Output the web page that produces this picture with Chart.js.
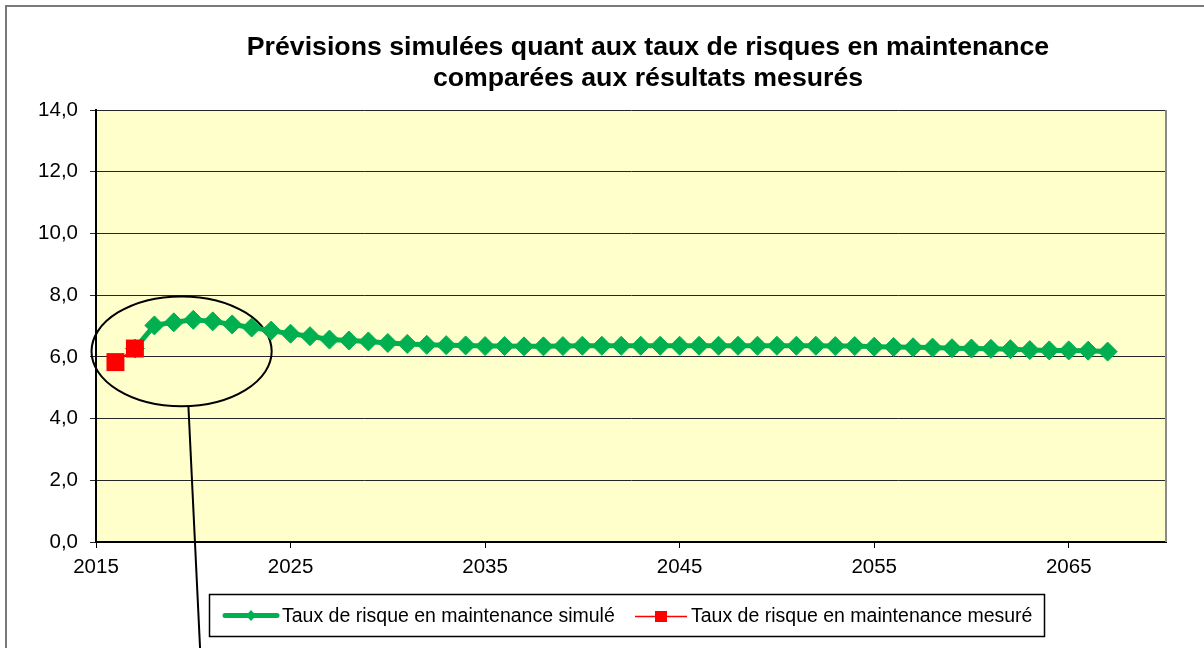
<!DOCTYPE html>
<html><head><meta charset="utf-8">
<script src="https://cdn.jsdelivr.net/npm/chart.js@4.4.1/dist/chart.umd.min.js"></script>
<style>html,body{margin:0;padding:0;background:#fff}#wrap{width:1204px;height:648px;position:relative}</style>
</head><body><div id="wrap"><canvas id="c"></canvas></div>
<script>
const titleLines = ['Prévisions simulées quant aux taux de risques en maintenance', 'comparées aux résultats mesurés'];
const simLabel = 'Taux de risque en maintenance simulé';
const mesLabel = 'Taux de risque en maintenance mesuré';
const simYears = [2017,2018,2019,2020,2021,2022,2023,2024,2025,2026,2027,2028,2029,2030,2031,2032,2033,2034,2035,2036,2037,2038,2039,2040,2041,2042,2043,2044,2045,2046,2047,2048,2049,2050,2051,2052,2053,2054,2055,2056,2057,2058,2059,2060,2061,2062,2063,2064,2065,2066,2067];
const simValues = [6.27,7.02,7.12,7.20,7.15,7.05,6.95,6.85,6.75,6.67,6.56,6.53,6.50,6.45,6.42,6.39,6.38,6.37,6.35,6.35,6.34,6.34,6.35,6.36,6.36,6.36,6.36,6.36,6.36,6.36,6.36,6.36,6.36,6.36,6.36,6.36,6.35,6.35,6.33,6.32,6.31,6.30,6.28,6.27,6.26,6.25,6.22,6.21,6.21,6.20,6.17];
const mesYears = [2016, 2017];
const mesValues = [5.83, 6.27];
const xTicks = [2015, 2025, 2035, 2045, 2055, 2065];
const yTicks = [0, 2, 4, 6, 8, 10, 12, 14];
// highlight ellipse annotation (data units)
const highlightCenter = [2019.4, 6.18];
const highlightRadii = [4.63, 1.78];
const pointerStart = [2019.75, 4.4];
const pointerEnd = [2020.35, -3.45];

const FONT = '"Liberation Sans", Arial, sans-serif';
const GREEN = '#00B050';
const RED = '#FF0000';

const deco = {
  id: 'deco',
  beforeDraw(chart) {
    const {ctx, chartArea: a} = chart;
    ctx.save();
    ctx.fillStyle = '#fff';
    ctx.fillRect(0, 0, chart.width, chart.height);
    ctx.fillStyle = '#FFFFCC';
    ctx.fillRect(a.left, a.top, a.right - a.left, a.bottom - a.top);
    // frame
    ctx.strokeStyle = '#7a7a7a';
    ctx.lineWidth = 2;
    ctx.beginPath();
    ctx.moveTo(6, chart.height);
    ctx.lineTo(6, 6);
    ctx.lineTo(chart.width, 6);
    ctx.stroke();
    // title
    ctx.fillStyle = '#000';
    ctx.font = 'bold 26.7px ' + FONT;
    ctx.textAlign = 'center';
    ctx.textBaseline = 'middle';
    ctx.fillText(titleLines[0], 648, 48);
    ctx.fillText(titleLines[1], 648, 79);
    ctx.restore();
  },
  beforeDatasetsDraw(chart) {
    const {ctx, chartArea: a} = chart;
    const xs = chart.scales.x, ys = chart.scales.y;
    ctx.save();
    // plot right border
    ctx.strokeStyle = '#8a8a8a';
    ctx.lineWidth = 2;
    ctx.beginPath();
    ctx.moveTo(a.right, a.top);
    ctx.lineTo(a.right, a.bottom);
    ctx.stroke();
    // ellipse
    const cx = xs.getPixelForValue(highlightCenter[0]);
    const cy = ys.getPixelForValue(highlightCenter[1]);
    const rx = xs.getPixelForValue(highlightCenter[0] + highlightRadii[0]) - cx;
    const ry = cy - ys.getPixelForValue(highlightCenter[1] + highlightRadii[1]);
    ctx.strokeStyle = '#000';
    ctx.lineWidth = 2;
    ctx.beginPath();
    ctx.ellipse(cx, cy, rx, ry, 0, 0, Math.PI * 2);
    ctx.stroke();
    ctx.beginPath();
    ctx.moveTo(xs.getPixelForValue(pointerStart[0]), ys.getPixelForValue(pointerStart[1]));
    ctx.lineTo(xs.getPixelForValue(pointerEnd[0]), ys.getPixelForValue(pointerEnd[1]));
    ctx.stroke();
    ctx.restore();
  },
  afterDraw(chart) {
    const ctx = chart.ctx;
    ctx.save();
    // legend box
    ctx.fillStyle = '#fff';
    ctx.fillRect(209, 594, 836, 43);
    ctx.strokeStyle = '#000';
    ctx.lineWidth = 1.5;
    ctx.strokeRect(209.5, 594.5, 835, 42);
    // green sample
    ctx.strokeStyle = GREEN;
    ctx.lineWidth = 5;
    ctx.lineCap = 'round';
    ctx.beginPath(); ctx.moveTo(225, 615.5); ctx.lineTo(277, 615.5); ctx.stroke();
    ctx.fillStyle = GREEN;
    ctx.beginPath();
    ctx.moveTo(251, 610); ctx.lineTo(256, 615.5); ctx.lineTo(251, 621); ctx.lineTo(246, 615.5); ctx.closePath(); ctx.fill();
    // red sample
    ctx.lineCap = 'butt';
    ctx.strokeStyle = RED;
    ctx.lineWidth = 1.5;
    ctx.beginPath(); ctx.moveTo(635, 616.5); ctx.lineTo(687, 616.5); ctx.stroke();
    ctx.fillStyle = RED;
    ctx.fillRect(655, 611, 12, 11);
    // texts
    ctx.fillStyle = '#000';
    ctx.font = '19.5px ' + FONT;
    ctx.textAlign = 'left';
    ctx.textBaseline = 'middle';
    ctx.fillText(simLabel, 282, 617);
    ctx.fillText(mesLabel, 691, 617);
    ctx.restore();
  }
};

new Chart(document.getElementById('c'), {
  type: 'line',
  data: {
    datasets: [
      {
        label: simLabel,
        data: simYears.map((x, i) => ({x: x, y: simValues[i]})),
        borderColor: GREEN, backgroundColor: GREEN, borderWidth: 5,
        pointStyle: 'rectRot', pointRadius: 9.5, pointBorderWidth: 1,
        pointBackgroundColor: GREEN, pointBorderColor: GREEN,
        tension: 0, order: 2
      },
      {
        label: mesLabel,
        data: mesYears.map((x, i) => ({x: x, y: mesValues[i]})),
        borderColor: RED, backgroundColor: RED, borderWidth: 1.5,
        pointStyle: 'rect', pointRadius: 12.7, pointBorderWidth: 0,
        pointBackgroundColor: RED, pointBorderColor: RED,
        tension: 0, order: 1
      }
    ]
  },
  options: {
    responsive: true, maintainAspectRatio: false, animation: false, events: [],
    layout: {padding: {left: 0, top: 110, right: 38, bottom: 0}},
    plugins: {legend: {display: false}, tooltip: {enabled: false}, title: {display: false}},
    scales: {
      x: {
        type: 'linear', min: 2015, max: 2070,
        afterBuildTicks: s => { s.ticks = xTicks.map(v => ({value: v})); },
        afterFit: s => { s.height = 106; },
        grid: {drawOnChartArea: false, drawTicks: true, tickLength: 6, color: '#000', lineWidth: 1},
        border: {display: true, color: '#000', width: 2},
        ticks: {color: '#000', font: {family: FONT, size: 20.5}, padding: 7, maxRotation: 0, autoSkip: false, callback: v => String(v)}
      },
      y: {
        min: 0, max: 14,
        afterBuildTicks: s => { s.ticks = yTicks.map(v => ({value: v})); },
        afterFit: s => { s.width = 96; },
        grid: {color: '#262626', lineWidth: 1, drawTicks: true, tickLength: 6},
        border: {display: true, color: '#000', width: 2},
        ticks: {color: '#000', font: {family: FONT, size: 20.5}, padding: 12, callback: v => v.toFixed(1).replace('.', ',')}
      }
    }
  },
  plugins: [deco]
});
</script></body></html>
